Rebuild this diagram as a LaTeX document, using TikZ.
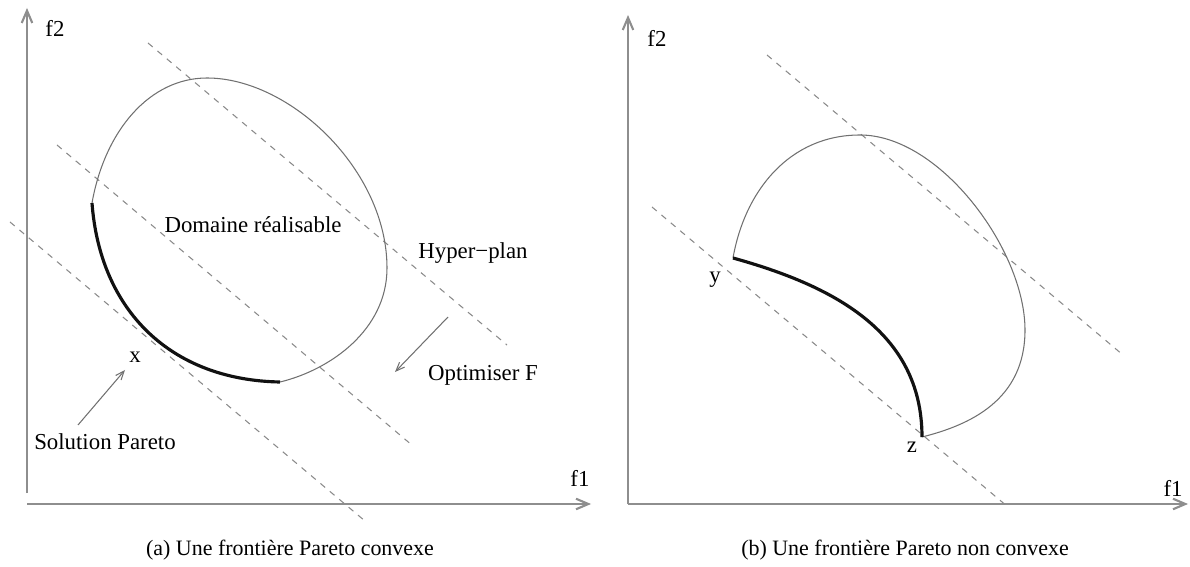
\documentclass[tikz,border=0pt]{standalone}
\usepackage{fontspec}
\setmainfont{Liberation Serif}
\usetikzlibrary{arrows.meta}
\definecolor{parAxis}{HTML}{8E8E8E}
\definecolor{parDash}{HTML}{8A8A8A}
\definecolor{parEdge}{HTML}{707070}
\definecolor{parInk}{HTML}{111111}
\tikzset{
  axe/.style={draw=parAxis,line width=1.2pt,-{Straight Barb[length=7pt,width=6pt]}},
  hyp/.style={draw=parDash,line width=0.6pt,dash pattern=on 3.5pt off 3.5pt},
  dom/.style={draw=parEdge,line width=0.6pt},
  front/.style={draw=parInk,line width=1.8pt},
  lbl/.style={font=\fontsize{13}{15}\selectfont,inner sep=1pt},
  capt/.style={font=\fontsize{12.5}{14}\selectfont,inner sep=1pt},
  arr/.style={draw=parEdge,line width=0.6pt,-{Straight Barb[length=5pt,width=4pt]}},
}

\begin{document}
\begin{tikzpicture}[x=0.02cm,y=-0.02cm]
    \useasboundingbox (0,0) rectangle (1190,567);
    % --- (a) convex front
    \coordinate (a-ybot) at (27,493);
    \coordinate (a-ytop) at (27,8);
    \coordinate (a-xl)   at (27,504);
    \coordinate (a-xr)   at (591,504);
    \draw[axe] (a-ybot) -- (a-ytop);
    \draw[axe] (a-xl) -- (a-xr);
    \node[lbl] at (55,28)  (a-f2) {f2};
    \node[lbl] at (580,478)(a-f1) {f1};

    \draw[hyp] (148,43) -- (507,345);
    \draw[hyp] (57,145) -- (413,446);
    \draw[hyp] (10,222) -- (365,521);

    \coordinate (a-top) at (92,203);
    \coordinate (a-end) at (280,382);
    \draw[dom] (a-top) .. controls (105,130) and (150,78) .. (207,78)
                       .. controls (290,78) and (387,170) .. (387,268)
                       .. controls (387,330) and (330,370) .. (a-end);
    \draw[front] (a-top) .. controls (100,310) and (170,380) .. (a-end);

    \node[lbl] at (253,225) (a-dom) {Domaine réalisable};
    \node[lbl] at (473,253) (a-hyp) {Hyper−plan};
    \node[lbl] at (483,375) (a-opt) {Optimiser F};
    \node[lbl] at (135,357) (a-x)   {x};
    \node[lbl] at (105,442) (a-sol) {Solution Pareto};
    \coordinate (a-opt-s) at (448,317);
    \coordinate (a-opt-e) at (395,372);
    \coordinate (a-sol-s) at (78,425);
    \coordinate (a-sol-e) at (125,370);
    \draw[arr] (a-opt-s) -- (a-opt-e);
    \draw[arr] (a-sol-s) -- (a-sol-e);
    \node[capt] at (290,550) (a-cap) {(a) Une frontière Pareto convexe};

    % --- (b) non convex front
    \coordinate (b-ybot) at (628,504);
    \coordinate (b-ytop) at (628,15);
    \coordinate (b-xr)   at (1188,504);
    \draw[axe] (b-ybot) -- (b-ytop);
    \draw[axe] (b-ybot) -- (b-xr);
    \node[lbl] at (657,38)  (b-f2) {f2};
    \node[lbl] at (1173,488)(b-f1) {f1};

    \draw[hyp] (767,55) -- (1123,355);
    \draw[hyp] (652,207) -- (1008,507);

    \coordinate (b-y) at (733,258);
    \coordinate (b-z) at (922,437);
    \draw[dom] (b-y) .. controls (745,190) and (790,135) .. (860,135)
                     .. controls (940,135) and (1025,250) .. (1025,330)
                     .. controls (1025,400) and (970,425) .. (b-z);
    \draw[front] (b-y) .. controls (830,285) and (922,330) .. (b-z);

    \node[lbl] at (715,280) (b-ylbl) {y};
    \node[lbl] at (912,447) (b-zlbl) {z};
    \node[capt] at (905,550) (b-cap) {(b) Une frontière Pareto non convexe};
\end{tikzpicture}
\end{document}
